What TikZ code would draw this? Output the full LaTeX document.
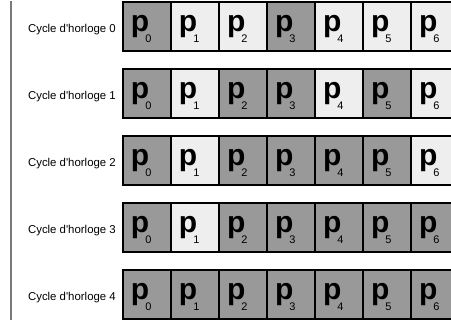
\documentclass[tikz,border=0pt]{standalone}
\usepackage{fontspec}
\setmainfont{Liberation Sans}
\definecolor{cd}{HTML}{999999}
\definecolor{cl}{HTML}{EEEEEE}
\newcommand{\pcell}[1]{\hspace*{8pt}{\fontsize{30}{30}\selectfont\bfseries p}\kern-4pt\raisebox{-11pt}{\fontsize{11}{11}\selectfont #1}}
\tikzset{
	cell/.style={draw, line width=1.5pt, fill=#1, minimum width=48pt, minimum height=49pt,
		inner sep=0pt, text width=48pt, align=left, text height=19pt, text depth=10pt},
	lbl/.style={anchor=base east, inner sep=0pt, font=\fontsize{11.4}{12}\selectfont}
}
\begin{document}
	\begin{tikzpicture}[x=1pt, y=-1pt]
		
		\useasboundingbox (0,0) rectangle (451,322);
		\clip (0,0) rectangle (451,322);
		
		\draw[line width=1.5pt, color=gray!95!black] (11,1) -- (11,320);
		
		\foreach \row/\cols in {0/{cd,cl,cl,cd,cl,cl,cl},
			1/{cd,cl,cd,cd,cl,cd,cl},
			2/{cd,cl,cd,cd,cd,cd,cl},
			3/{cd,cl,cd,cd,cd,cd,cd},
			4/{cd,cd,cd,cd,cd,cd,cd}}{
			\node[lbl] (lbl\row) at (116, {32.5+67*\row}) {Cycle d\textquotesingle horloge \row};
			\foreach \col [count=\k from 0] in \cols
				\node[cell=\col] (r\row c\k) at ({147+48*\k}, {26.5+67*\row}) {\pcell{\k}};
		}
		
	\end{tikzpicture}
\end{document}
